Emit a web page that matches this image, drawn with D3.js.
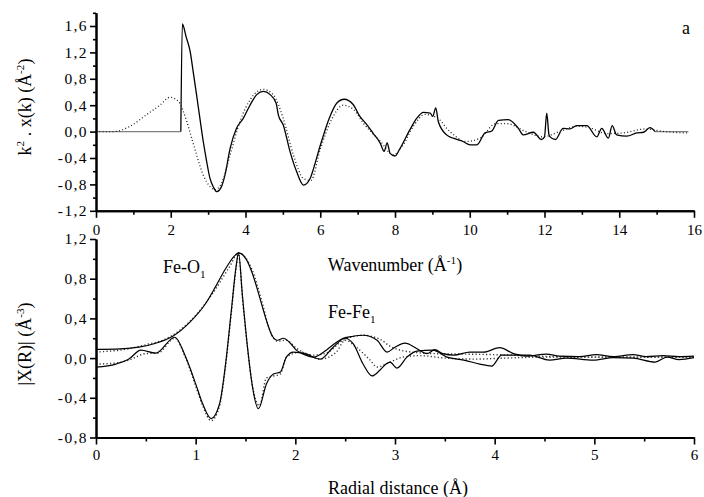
<!DOCTYPE html>
<html><head><meta charset="utf-8">
<script src="https://cdn.jsdelivr.net/npm/d3@7"></script>
<style>
body{margin:0;background:#fff}
svg{display:block}
text{font-family:"Liberation Serif","Times New Roman",serif;fill:#000}
</style>
</head><body>
<svg id="c" width="704" height="497"></svg>
<script>
// ---------- Panel (a) top: k^2 chi(k) ----------
const kExp = [0, 2.27, 2.31, 2.41, 2.52, 2.60, 2.69, 2.78, 2.87, 2.96, 3.05, 3.14, 3.23, 3.36, 3.45, 3.59, 3.76, 3.94, 4.12, 4.30, 4.48, 4.66, 4.82, 4.88, 5.01, 5.19, 5.37, 5.55, 5.73, 5.81, 5.99, 6.26, 6.44, 6.64, 6.88, 7.06, 7.24, 7.42, 7.60, 7.71, 7.79, 7.87, 8.00, 8.13, 8.40, 8.58, 8.76, 8.94, 9.01, 9.09, 9.16, 9.38, 9.56, 9.82, 10.01, 10.19, 10.41, 10.59, 10.77, 11.03, 11.30, 11.43, 11.70, 11.92, 12.00, 12.06, 12.12, 12.15, 12.29, 12.50, 12.68, 12.86, 13.13, 13.40, 13.53, 13.71, 13.81, 13.93, 14.20, 14.47, 14.65, 14.82, 14.96, 15.85];
const chiExp = [0, 0, 1.63, 1.44, 1.21, 0.91, 0.56, 0.20, -0.15, -0.45, -0.71, -0.84, -0.91, -0.83, -0.66, -0.25, 0.05, 0.20, 0.40, 0.56, 0.61, 0.56, 0.43, 0.25, 0.10, -0.30, -0.61, -0.81, -0.71, -0.58, -0.23, 0.23, 0.43, 0.49, 0.41, 0.23, 0.11, -0.03, -0.17, -0.30, -0.17, -0.33, -0.37, -0.26, 0.03, 0.20, 0.29, 0.28, 0.23, 0.36, 0.15, -0.05, -0.10, -0.15, -0.20, -0.20, -0.02, 0.01, 0.17, 0.18, 0.05, -0.05, -0.01, -0.12, -0.08, 0.28, -0.05, -0.08, -0.12, 0.05, 0.04, 0.09, 0.09, -0.08, 0.05, -0.10, 0.09, -0.05, -0.07, -0.02, -0.01, 0.06, 0.0, 0.0];
const kFit = [0, 0.46, 0.91, 1.36, 1.71, 1.98, 2.20, 2.43, 2.56, 2.69, 2.87, 3.05, 3.18, 3.36, 3.59, 3.85, 4.12, 4.48, 4.74, 5.01, 5.28, 5.55, 5.75, 6.00, 6.30, 6.62, 6.90, 7.15, 7.60, 7.95, 8.20, 8.49, 8.80, 9.10, 9.47, 9.90, 10.27, 10.70, 11.00, 11.50, 11.96, 12.40, 12.86, 13.20, 13.66, 14.10, 14.70, 15.20, 15.85];
const chiFit = [0, 0.0, 0.08, 0.26, 0.40, 0.52, 0.46, 0.15, -0.10, -0.35, -0.66, -0.83, -0.88, -0.78, -0.35, 0.15, 0.48, 0.64, 0.56, 0.20, -0.35, -0.71, -0.74, -0.27, 0.18, 0.40, 0.33, 0.13, -0.14, -0.35, -0.22, 0.08, 0.26, 0.22, 0.0, -0.15, -0.10, 0.12, 0.12, 0.0, -0.08, 0.0, 0.08, 0.06, -0.03, -0.02, 0.04, 0.0, -0.02];
const kTicks = [0, 2, 4, 6, 8, 10, 12, 14, 16];
const kMinor = [1, 3, 5, 7, 9, 11, 13, 15];
const chiTicks = [-1.2, -0.8, -0.4, 0.0, 0.4, 0.8, 1.2, 1.6];
const chiMinor = [-1.0, -0.6, -0.2, 0.2, 0.6, 1.0, 1.4, 1.8];

// ---------- Bottom: Fourier transform |X(R)| ----------
const rMagExp = [0, 0.2, 0.43, 0.6, 0.77, 0.94, 1.10, 1.20, 1.30, 1.39, 1.43, 1.505, 1.57, 1.64, 1.71, 1.77, 1.82, 1.88, 1.95, 2.01, 2.08, 2.18, 2.31, 2.40, 2.48, 2.58, 2.68, 2.82, 2.92, 3.0, 3.1, 3.22, 3.32, 3.40, 3.48, 3.59, 3.75, 3.89, 4.05, 4.19, 4.32, 4.52, 4.65, 4.85, 5.02, 5.19, 5.39, 5.52, 5.69, 5.85, 6.0];
const magExp = [0.088, 0.09, 0.11, 0.15, 0.22, 0.36, 0.55, 0.72, 0.90, 1.03, 1.06, 1.00, 0.85, 0.62, 0.38, 0.22, 0.18, 0.20, 0.15, 0.08, 0.04, 0.01, 0.08, 0.15, 0.20, 0.22, 0.23, 0.18, 0.06, 0.11, 0.15, 0.095, 0.045, 0.085, 0.045, 0.03, 0.06, 0.06, 0.105, 0.045, 0.02, 0.04, 0.02, 0.015, 0.035, 0.015, 0.035, 0.015, 0.025, 0.015, 0.02];
const rImExp = [0, 0.2, 0.33, 0.45, 0.6, 0.79, 0.9, 1.0, 1.07, 1.155, 1.24, 1.30, 1.355, 1.405, 1.43, 1.47, 1.52, 1.57, 1.63, 1.71, 1.78, 1.85, 1.91, 1.98, 2.11, 2.25, 2.38, 2.50, 2.58, 2.68, 2.77, 2.85, 2.91, 2.95, 3.02, 3.12, 3.22, 3.38, 3.52, 3.69, 3.85, 3.97, 4.07, 4.21, 4.35, 4.55, 4.72, 4.99, 5.19, 5.39, 5.61, 5.73, 5.85, 6.0];
const imExp = [-0.09, -0.06, -0.01, 0.08, 0.05, 0.21, 0.01, -0.26, -0.46, -0.61, -0.46, -0.06, 0.45, 0.92, 1.06, 0.62, 0.11, -0.29, -0.51, -0.26, -0.16, -0.14, 0.01, 0.06, 0.04, -0.01, 0.11, 0.20, 0.145, -0.06, -0.18, -0.12, -0.06, -0.04, -0.10, 0.01, 0.07, 0.08, 0.01, -0.02, -0.06, -0.08, 0.03, 0.03, 0.03, -0.02, 0.0, -0.02, 0.005, 0.0, -0.04, 0.01, -0.015, 0.005];
const rMagFit = [0, 0.33, 0.54, 0.67, 0.84, 1.0, 1.17, 1.34, 1.43, 1.57, 1.67, 1.74, 1.82, 1.91, 2.01, 2.18, 2.31, 2.48, 2.68, 2.85, 2.95, 3.1, 3.4, 3.7, 4.0, 4.4, 5.0, 5.5, 6.0];
const magFit = [0.06, 0.095, 0.145, 0.18, 0.28, 0.43, 0.65, 0.92, 1.06, 0.88, 0.55, 0.29, 0.17, 0.18, 0.10, 0.03, 0.05, 0.18, 0.23, 0.19, 0.12, 0.07, 0.045, 0.04, 0.035, 0.02, 0.01, 0.01, 0.01];
const rImFit = [0, 0.2, 0.33, 0.5, 0.62, 0.79, 0.9, 1.0, 1.07, 1.155, 1.24, 1.30, 1.355, 1.405, 1.43, 1.47, 1.52, 1.57, 1.64, 1.71, 1.85, 1.91, 2.05, 2.25, 2.41, 2.5, 2.61, 2.75, 2.82, 2.95, 3.08, 3.25, 3.5, 3.8, 4.1, 4.5, 5.0, 6.0];
const imFit = [-0.06, -0.05, -0.02, 0.045, 0.05, 0.20, 0.0, -0.28, -0.48, -0.63, -0.48, -0.08, 0.43, 0.90, 1.05, 0.60, 0.10, -0.28, -0.48, -0.20, -0.16, 0.01, 0.06, -0.01, 0.06, 0.18, 0.11, -0.02, -0.09, -0.04, 0.01, 0.025, 0.0, -0.01, 0.0, 0.01, 0.01, 0.01];
const rTicks = [0, 1, 2, 3, 4, 5, 6];
const rMinor = [0.5, 1.5, 2.5, 3.5, 4.5, 5.5];
const ftTicks = [-0.8, -0.4, 0.0, 0.4, 0.8, 1.2];
const ftMinor = [-0.6, -0.2, 0.2, 0.6, 1.0];

// ---------- drawing ----------
const svg = d3.select("#c");
const loc = d3.formatLocale({decimal: ",", thousands: ".", grouping: [3], currency: ["", ""], minus: "-"});
const fmt1 = loc.format(".1f");
const zip = (xs, ys) => xs.map((x, i) => [x, ys[i]]);

const xk = d3.scaleLinear().domain([0, 16]).range([96, 694]);
const yk = d3.scaleLinear().domain([-1.2, 1.8]).range([210.8, 12.8]);
const xr = d3.scaleLinear().domain([0, 6]).range([96, 694]);
const yr = d3.scaleLinear().domain([-0.8, 1.2]).range([437.5, 239]);

function styleAxis(g) {
  g.select(".domain").attr("stroke", "#000").attr("stroke-width", 2);
  g.selectAll(".tick line").attr("stroke", "#000").attr("stroke-width", 1.6);
  g.selectAll(".tick text").attr("font-size", 15).attr("fill", "#000");
}
function xAxis(scale, y, major, minor, fmt, pad) {
  svg.append("g").attr("transform", `translate(0,${y})`)
    .call(d3.axisBottom(scale).tickValues(minor).tickSize(4).tickSizeOuter(0).tickFormat(""))
    .call(styleAxis);
  svg.append("g").attr("transform", `translate(0,${y})`)
    .call(d3.axisBottom(scale).tickValues(major).tickSize(7).tickSizeOuter(0).tickPadding(pad).tickFormat(fmt))
    .call(styleAxis);
}
function yAxis(scale, x, major, minor, fmt) {
  svg.append("g").attr("transform", `translate(${x},0)`)
    .call(d3.axisLeft(scale).tickValues(minor).tickSize(3).tickSizeOuter(0).tickFormat(""))
    .call(styleAxis);
  svg.append("g").attr("transform", `translate(${x},0)`)
    .call(d3.axisLeft(scale).tickValues(major).tickSize(6).tickSizeOuter(0).tickPadding(2).tickFormat(fmt))
    .call(styleAxis)
    .call(g => g.selectAll(".tick text").attr("letter-spacing", 1.4).attr("font-size", 15.5));
}

// top panel lines
const lineK = d3.line().x(d => xk(d[0])).y(d => yk(d[1])).curve(d3.curveMonotoneX);
const expPts = zip(kExp, chiExp);
const firstIdx = kExp.indexOf(2.27), lastIdx = kExp.indexOf(14.96);
svg.append("path").attr("d", lineK(expPts.slice(0, firstIdx + 1))).attr("fill", "none").attr("stroke", "#808080").attr("stroke-width", 1.4);
svg.append("path").attr("d", lineK(expPts.slice(lastIdx))).attr("fill", "none").attr("stroke", "#808080").attr("stroke-width", 1.4);
svg.append("path").attr("d", lineK(expPts.slice(firstIdx, lastIdx + 1))).attr("fill", "none").attr("stroke", "#000").attr("stroke-width", 1.3);
svg.append("path").attr("d", lineK(zip(kFit, chiFit))).attr("fill", "none").attr("stroke", "#222").attr("stroke-width", 1.3).attr("stroke-dasharray", "1,2.3");

// bottom panel lines
const lineR = d3.line().x(d => xr(d[0])).y(d => yr(d[1])).curve(d3.curveMonotoneX);
[[rMagFit, magFit], [rImFit, imFit]].forEach(([a, b]) => {
  svg.append("path").attr("d", lineR(zip(a, b))).attr("fill", "none").attr("stroke", "#333").attr("stroke-width", 1.4).attr("stroke-dasharray", "1.2,2.3");
});
[[rMagExp, magExp], [rImExp, imExp]].forEach(([a, b]) => {
  svg.append("path").attr("d", lineR(zip(a, b))).attr("fill", "none").attr("stroke", "#000").attr("stroke-width", 1.2);
});

// axes
xAxis(xk, 210.8, kTicks, kMinor, d3.format("d"), 7);
yAxis(yk, 96, chiTicks, chiMinor, fmt1);
xAxis(xr, 437.5, rTicks, rMinor, d3.format("d"), 5);
yAxis(yr, 96, ftTicks, ftMinor, fmt1);

// text helpers
function richText(x, y, parts, opts = {}) {
  const t = svg.append("text").attr("x", x).attr("y", y).attr("font-size", opts.size || 18)
    .attr("text-anchor", opts.anchor || "start");
  if (opts.rotate) t.attr("transform", `rotate(-90,${x},${y})`);
  parts.forEach(p => {
    const s = t.append("tspan").text(p.t);
    if (p.sup) s.attr("font-size", (opts.size || 18) * 0.62).attr("dy", -7);
    if (p.sub) s.attr("font-size", (opts.size || 18) * 0.62).attr("dy", 5);
    if (p.back) s.attr("dy", p.back);
  });
  return t;
}
// axis titles
richText(31, 107, [{t: "k"}, {t: "2", sup: true}, {t: " . x(k) (Å", back: 7}, {t: "-2", sup: true}, {t: ")", back: 7}], {rotate: true, anchor: "middle", size: 18});
richText(31, 344, [{t: "|X(R)| (Å"}, {t: "-3", sup: true}, {t: ")", back: 7}], {rotate: true, anchor: "middle", size: 18});
richText(395, 271, [{t: "Wavenumber (Å"}, {t: "-1", sup: true}, {t: ")", back: 7}], {anchor: "middle", size: 18});
svg.append("text").attr("x", 398).attr("y", 494).attr("text-anchor", "middle").attr("font-size", 18).text("Radial distance (Å)");
// annotations
richText(163, 273, [{t: "Fe-O"}, {t: "1", sub: true}], {size: 18});
richText(328, 318, [{t: "Fe-Fe"}, {t: "1", sub: true}], {size: 18});
svg.append("text").attr("x", 682).attr("y", 34).attr("font-size", 18).text("a");
</script>
</body></html>
